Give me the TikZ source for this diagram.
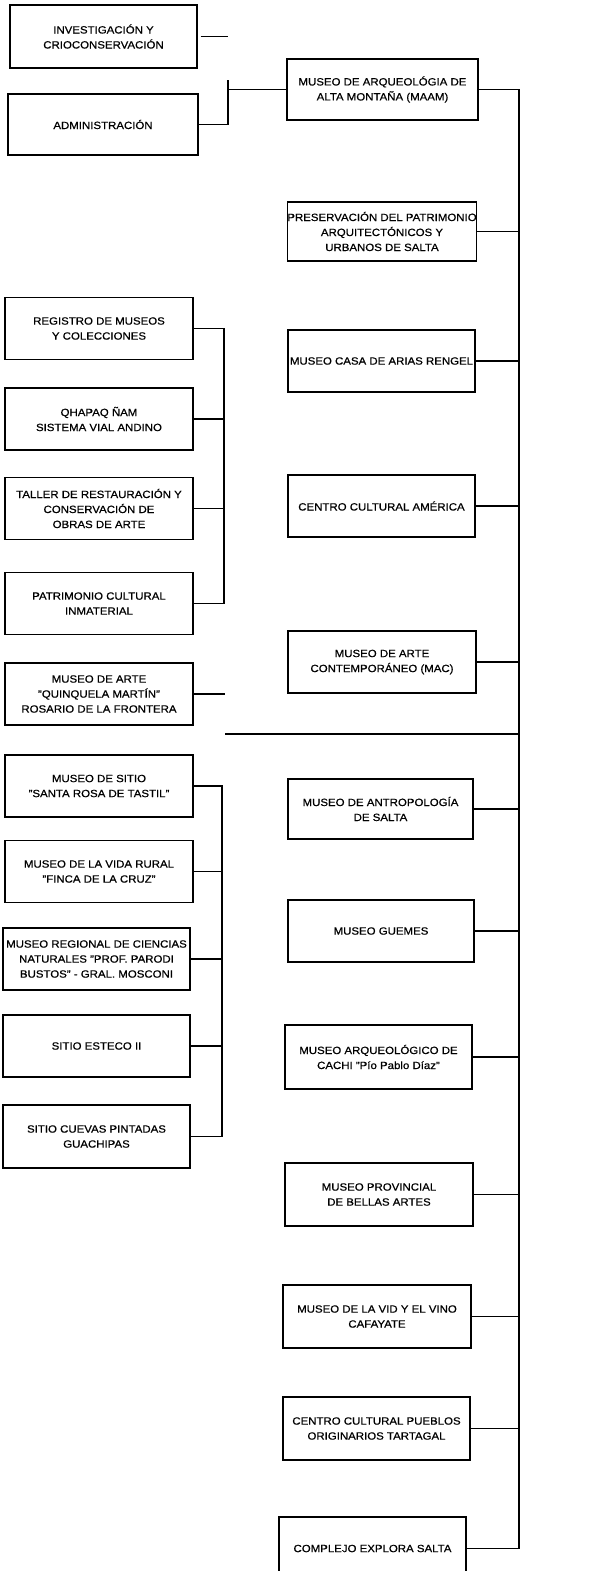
\documentclass[tikz,border=0pt]{standalone}
\usepackage{fontspec}
\setmainfont{Liberation Sans}[FakeStretch=1.09,FakeBold=0.6]
\begin{document}
\begin{tikzpicture}[x=1pt,y=-1pt,
  box/.style={draw, line width=1.4pt, rectangle, inner sep=0pt, align=center,
    minimum width=188pt, minimum height=62pt,
    font=\fontsize{10.5}{15}\selectfont},
  conn/.style={line width=1.4pt}]
\clip (0,0) rectangle (589,1571);
\fill[white] (0,0) rectangle (589,1571);
% left column
\node[box, minimum width=187pt, minimum height=63pt] (inv) at (103.5,36.5) {INVESTIGACIÓN Y\\CRIOCONSERVACIÓN};
\node[box, minimum width=190pt, minimum height=61pt] (adm) at (103,124.5) {ADMINISTRACIÓN};
\node[box] (reg) at (99,328.5) {REGISTRO DE MUSEOS\\Y COLECCIONES};
\node[box] (qha) at (99,419) {QHAPAQ ÑAM\\SISTEMA VIAL ANDINO};
\node[box] (taller) at (99,508.5) {TALLER DE RESTAURACIÓN Y\\CONSERVACIÓN DE\\OBRAS DE ARTE};
\node[box] (patr) at (99,603.5) {PATRIMONIO CULTURAL\\INMATERIAL};
\node[box] (rosario) at (99,694) {MUSEO DE ARTE\\"QUINQUELA MARTÍN"\\ROSARIO DE LA FRONTERA};
\node[box] (santa) at (99,786) {MUSEO DE SITIO\\"SANTA ROSA DE TASTIL"};
\node[box] (vida) at (99,871.5) {MUSEO DE LA VIDA RURAL\\"FINCA DE LA CRUZ"};
\node[box, minimum width=187pt] (regional) at (96.5,959) {MUSEO REGIONAL DE CIENCIAS\\NATURALES "PROF. PARODI\\BUSTOS" - GRAL. MOSCONI};
\node[box, minimum width=187pt] (esteco) at (96.5,1046) {SITIO ESTECO II};
\node[box, minimum width=187pt, minimum height=63pt] (cuevas) at (96.5,1136.5) {SITIO CUEVAS PINTADAS\\GUACHIPAS};
% right column
\node[box, minimum width=191pt, minimum height=61pt] (maam) at (382.5,89.5) {MUSEO DE ARQUEOLÓGIA DE\\ALTA MONTAÑA (MAAM)};
\node[box, minimum height=59pt] (pres) at (382,231.5) {PRESERVACIÓN DEL PATRIMONIO\\ARQUITECTÓNICOS Y\\URBANOS DE SALTA};
\node[box, minimum width=187pt] (casa) at (381.5,361) {MUSEO CASA DE ARIAS RENGEL};
\node[box, minimum width=187pt] (america) at (381.5,506) {CENTRO CULTURAL AMÉRICA};
\node[box] (mac) at (382,662) {MUSEO DE ARTE\\CONTEMPORÁNEO (MAC)};
\node[box, minimum width=185pt, minimum height=60pt] (antro) at (380.5,809) {MUSEO DE ANTROPOLOGÍA\\DE SALTA};
\node[box, minimum width=186pt] (guemes) at (381,931) {MUSEO GUEMES};
\node[box, minimum width=187pt, minimum height=64pt] (cachi) at (378.5,1057) {MUSEO ARQUEOLÓGICO DE\\CACHI "Pío Pablo Díaz"};
\node[box, minimum height=63pt] (bellas) at (379,1194.5) {MUSEO PROVINCIAL\\DE BELLAS ARTES};
\node[box, minimum height=63pt] (vid) at (377,1316.5) {MUSEO DE LA VID Y EL VINO\\CAFAYATE};
\node[box, minimum width=187pt, minimum height=63pt] (pueblos) at (376.5,1428.5) {CENTRO CULTURAL PUEBLOS\\ORIGINARIOS TARTAGAL};
\node[box, minimum width=187pt, minimum height=63pt] (explora) at (372.5,1548.5) {COMPLEJO EXPLORA SALTA};
% connector coordinates
\coordinate (T) at (519,0);
\coordinate (A) at (228,0);
\coordinate (B) at (224,0);
\coordinate (C) at (222,0);
% top group
\draw[conn] (inv.east) ++(3,0) -- (inv.east -| A);
\coordinate (a1) at (228,80);
\draw[conn] (adm.east) -- (adm.east -| A) -- (a1);
\draw[conn] (maam.west -| A) -- (maam.west);
% trunk
\draw[conn] (maam.east) -- (maam.east -| T) -- (explora.east -| T);
\foreach \n in {pres,casa,america,mac,antro,guemes,cachi,bellas,vid,pueblos,explora}
  \draw[conn] (\n.east) -- (\n.east -| T);
% upper left group
\draw[conn] (reg.east) -- (reg.east -| B) -- (patr.east -| B) -- (patr.east);
\draw[conn] (qha.east) -- (qha.east -| B);
\draw[conn] (taller.east) -- (taller.east -| B);
% rosario
\coordinate (r1) at (225,694);
\draw[conn] (rosario.east) -- (r1);
\coordinate (h1) at (225,734);
\draw[conn] (h1) -- (h1 -| T);
% lower left group
\draw[conn] (santa.east) -- (santa.east -| C) -- (cuevas.east -| C) -- (cuevas.east);
\foreach \n in {vida,regional,esteco}
  \draw[conn] (\n.east) -- (\n.east -| C);
\end{tikzpicture}
\end{document}
